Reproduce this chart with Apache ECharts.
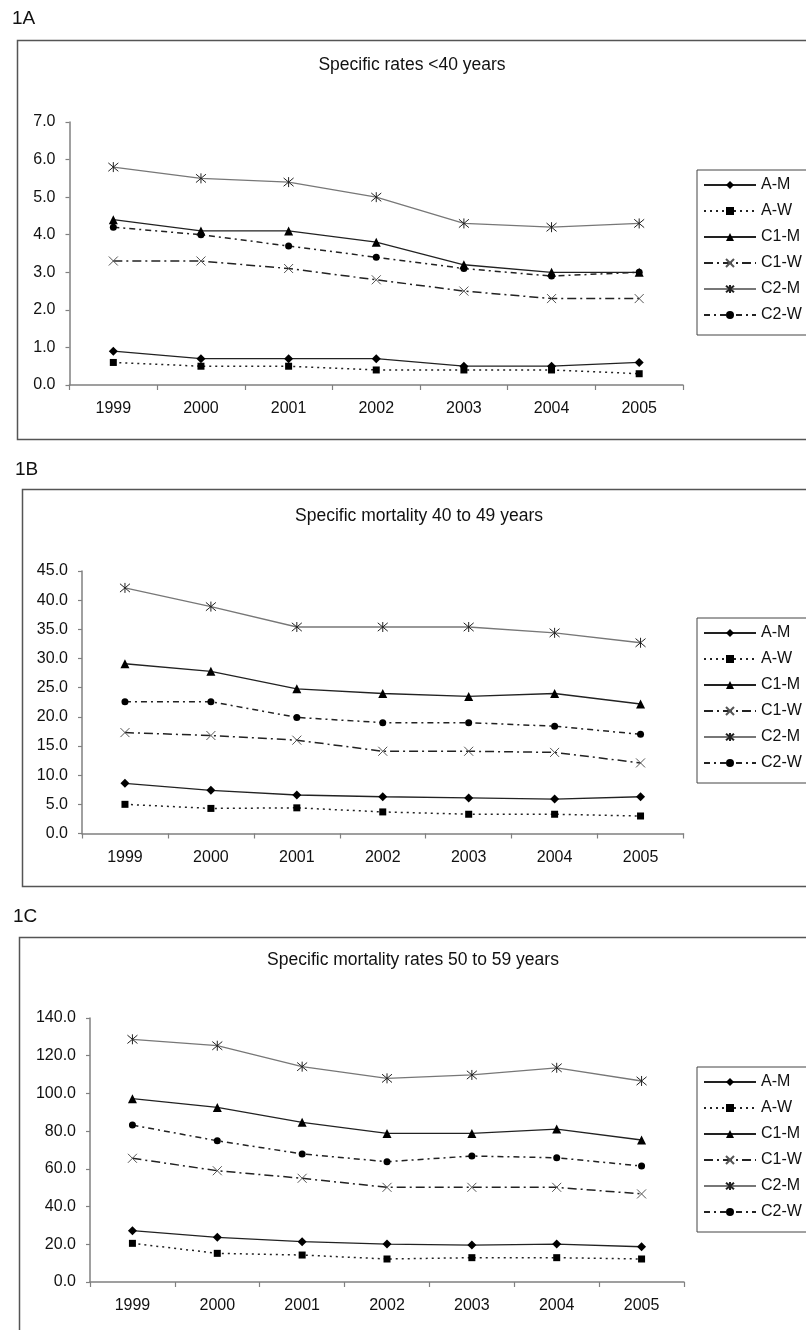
<!DOCTYPE html>
<html>
<head>
<meta charset="utf-8">
<script src="https://cdn.jsdelivr.net/npm/echarts@6/dist/echarts.min.js"></script>
<style>
  html, body { margin: 0; padding: 0; background: #fff; }
  #chart { width: 806px; height: 1330px; }
</style>
</head>
<body>
<div id="chart"></div>
<script>
// ---- data ----
const years = ['1999', '2000', '2001', '2002', '2003', '2004', '2005'];
const seriesNames = ['A-M', 'A-W', 'C1-M', 'C1-W', 'C2-M', 'C2-W'];
const panelLabels = ['1A', '1B', '1C'];
const panelTitles = ['Specific rates <40 years', 'Specific mortality 40 to 49 years', 'Specific mortality rates 50 to 59 years'];

// <40 years
const u40_AM  = [0.9, 0.7, 0.7, 0.7, 0.5, 0.5, 0.6];
const u40_AW  = [0.6, 0.5, 0.5, 0.4, 0.4, 0.4, 0.3];
const u40_C1M = [4.4, 4.1, 4.1, 3.8, 3.2, 3.0, 3.0];
const u40_C1W = [3.3, 3.3, 3.1, 2.8, 2.5, 2.3, 2.3];
const u40_C2M = [5.8, 5.5, 5.4, 5.0, 4.3, 4.2, 4.3];
const u40_C2W = [4.2, 4.0, 3.7, 3.4, 3.1, 2.9, 3.0];

// 40 to 49 years
const m40_AM  = [8.6, 7.4, 6.6, 6.3, 6.1, 5.9, 6.3];
const m40_AW  = [5.0, 4.3, 4.4, 3.7, 3.3, 3.3, 3.0];
const m40_C1M = [29.1, 27.8, 24.8, 24.0, 23.5, 24.0, 22.2];
const m40_C1W = [17.3, 16.8, 16.0, 14.1, 14.1, 13.9, 12.1];
const m40_C2M = [42.1, 38.9, 35.4, 35.4, 35.4, 34.4, 32.7];
const m40_C2W = [22.6, 22.6, 19.9, 19.0, 19.0, 18.4, 17.0];

// 50 to 59 years
const m50_AM  = [27.2, 23.7, 21.4, 20.1, 19.6, 20.1, 18.7];
const m50_AW  = [20.5, 15.2, 14.3, 12.2, 12.9, 12.9, 12.2];
const m50_C1M = [97.2, 92.6, 84.7, 78.8, 78.8, 81.1, 75.3];
const m50_C1W = [65.6, 59.0, 55.0, 50.2, 50.2, 50.2, 46.7];
const m50_C2M = [128.7, 125.3, 114.2, 108.0, 109.8, 113.6, 106.6];
const m50_C2W = [83.2, 74.9, 67.9, 63.8, 66.8, 65.9, 61.5];

// y axis [min, max, interval]
const yAxisU40 = [0, 7, 1];
const yAxisM40 = [0, 45, 5];
const yAxisM50 = [0, 140, 20];

// ---- layout / style ----
const FONT = "'Liberation Sans', Arial, sans-serif";
const panels = [
  { data: [u40_AM, u40_AW, u40_C1M, u40_C1W, u40_C2M, u40_C2W], y: yAxisU40,
    grid: { left: 69.5, top: 122, width: 613.5, height: 263 },
    box: { x: 17, y: 40, h: 399 }, label: { x: 12, y: 19 }, title: { x: 412, y: 65 },
    legendTop: 170 },
  { data: [m40_AM, m40_AW, m40_C1M, m40_C1W, m40_C2M, m40_C2W], y: yAxisM40,
    grid: { left: 82, top: 571, width: 601.5, height: 262.5 },
    box: { x: 22, y: 489, h: 397 }, label: { x: 15, y: 470 }, title: { x: 419, y: 516 },
    legendTop: 618 },
  { data: [m50_AM, m50_AW, m50_C1M, m50_C1W, m50_C2M, m50_C2W], y: yAxisM50,
    grid: { left: 90, top: 1018, width: 594, height: 264 },
    box: { x: 19, y: 937, h: 420 }, label: { x: 13, y: 917 }, title: { x: 413, y: 960 },
    legendTop: 1067 }
];

const X_PATH = 'path://M0,0L10,10M10,0L0,10';
const STAR_PATH = 'path://M0,0L10,10M10,0L0,10M5,-1L5,11';
const seriesStyles = [
  { symbol: 'diamond', symbolSize: 9, line: { color: '#222', width: 1.3, type: 'solid' }, item: { color: '#000' } },
  { symbol: 'rect', symbolSize: 7, line: { color: '#222', width: 1.5, type: [2, 4] }, item: { color: '#000' } },
  { symbol: 'triangle', symbolSize: 9, line: { color: '#222', width: 1.3, type: 'solid' }, item: { color: '#000' } },
  { symbol: X_PATH, symbolSize: 9, line: { color: '#222', width: 1.5, type: [9, 4, 2, 4] }, item: { color: '#555', borderColor: '#555', borderWidth: 1 } },
  { symbol: STAR_PATH, symbolSize: 10, line: { color: '#777', width: 1.3, type: 'solid' }, item: { color: '#222', borderColor: '#222', borderWidth: 1 } },
  { symbol: 'circle', symbolSize: 7, line: { color: '#222', width: 1.5, type: [6, 4, 2, 4] }, item: { color: '#000' } }
];

const grids = [], xAxes = [], yAxes = [], series = [], legends = [], graphics = [];
panels.forEach((p, i) => {
  grids.push(Object.assign({}, p.grid));
  xAxes.push({
    type: 'category', gridIndex: i, data: years, boundaryGap: true,
    axisLine: { lineStyle: { color: '#808080', width: 1.5 } },
    axisTick: { show: true, alignWithLabel: false, interval: 0, length: 5, lineStyle: { color: '#808080', width: 1.2 } },
    axisLabel: { interval: 0, color: '#111', fontSize: 16, fontFamily: FONT, margin: 16 },
    splitLine: { show: false }
  });
  yAxes.push({
    type: 'value', gridIndex: i, min: p.y[0], max: p.y[1], interval: p.y[2],
    axisLine: { show: true, lineStyle: { color: '#808080', width: 1.5 } },
    axisTick: { show: true, length: 4, lineStyle: { color: '#808080', width: 1.2 } },
    axisLabel: { color: '#111', fontSize: 16, fontFamily: FONT, margin: 14, formatter: v => v.toFixed(1) },
    splitLine: { show: false }
  });
  seriesNames.forEach((name, k) => {
    const st = seriesStyles[k];
    series.push({
      type: 'line', name: name, xAxisIndex: i, yAxisIndex: i, data: p.data[k],
      symbol: st.symbol, symbolSize: st.symbolSize, showAllSymbol: true,
      lineStyle: st.line, itemStyle: st.item, emphasis: { disabled: true },
      animation: false, z: 3 + k
    });
  });
  legends.push({
    data: seriesNames, orient: 'vertical', left: 697, top: p.legendTop,
    padding: [7, 40, 12, 6], itemGap: 10, itemWidth: 52, itemHeight: 10,
    borderColor: '#444', borderWidth: 1, backgroundColor: '#fff',
    selectedMode: false,
    textStyle: { color: '#111', fontSize: 16, fontFamily: FONT, lineHeight: 16 }
  });
  graphics.push({
    type: 'rect', silent: true, z: -1,
    shape: { x: p.box.x + 0.5, y: p.box.y + 0.5, width: 830, height: p.box.h },
    style: { fill: 'none', stroke: '#555', lineWidth: 1.5 }
  });
  graphics.push({
    type: 'text', silent: true,
    style: { text: panelLabels[i], x: p.label.x, y: p.label.y, textVerticalAlign: 'middle', fill: '#111', font: '19px ' + FONT }
  });
  graphics.push({
    type: 'text', silent: true,
    style: { text: panelTitles[i], x: p.title.x, y: p.title.y, textAlign: 'center', textVerticalAlign: 'middle', fill: '#111', font: '17.5px ' + FONT }
  });
});

const chart = echarts.init(document.getElementById('chart'), null, { renderer: 'canvas' });
chart.setOption({
  backgroundColor: '#fff',
  animation: false,
  grid: grids,
  xAxis: xAxes,
  yAxis: yAxes,
  legend: legends,
  series: series,
  graphic: graphics
});
</script>
</body>
</html>
